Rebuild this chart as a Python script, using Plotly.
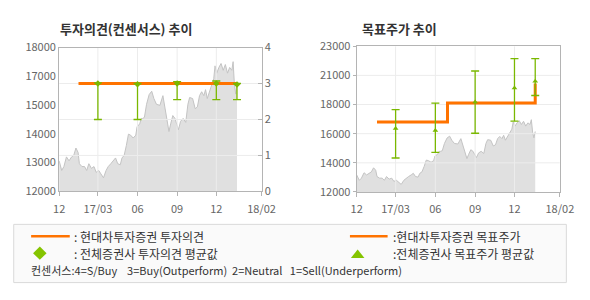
import plotly.graph_objects as go

W, H = 590, 300

# ---------------- data ----------------
price_dates = [
    "2016-12-01", "2016-12-07", "2016-12-12", "2016-12-18", "2016-12-24", "2016-12-30",
    "2017-01-04", "2017-01-09", "2017-01-14", "2017-01-17", "2017-01-23", "2017-01-29",
    "2017-02-03", "2017-02-08", "2017-02-14", "2017-02-20", "2017-02-25", "2017-03-03",
    "2017-03-08", "2017-03-14", "2017-03-20", "2017-03-25", "2017-03-31", "2017-04-06",
    "2017-04-11", "2017-04-16", "2017-04-22", "2017-04-26", "2017-05-01", "2017-05-06",
    "2017-05-11", "2017-05-16", "2017-05-22", "2017-05-28", "2017-05-31", "2017-06-06",
    "2017-06-10", "2017-06-13", "2017-06-17", "2017-06-22", "2017-06-28", "2017-07-04",
    "2017-07-09", "2017-07-15", "2017-07-23", "2017-07-30", "2017-08-05", "2017-08-10",
    "2017-08-13", "2017-08-17", "2017-08-22", "2017-08-27", "2017-09-01", "2017-09-04",
    "2017-09-09", "2017-09-15", "2017-09-21", "2017-09-26", "2017-09-30", "2017-10-07",
    "2017-10-13", "2017-10-18", "2017-10-23", "2017-10-28", "2017-11-02", "2017-11-06",
    "2017-11-10", "2017-11-15", "2017-11-19", "2017-11-25", "2017-11-28", "2017-12-02",
    "2017-12-07", "2017-12-12", "2017-12-17", "2017-12-22", "2017-12-27", "2018-01-01",
    "2018-01-06", "2018-01-09", "2018-01-12", "2018-01-15", "2018-01-18",
]
price_vals = [
    13170, 12800, 12950, 13320, 13170, 13320,
    13380, 13660, 13490, 13060, 12950, 12950,
    12800, 13060, 12880, 12950, 12730, 12800,
    12670, 12520, 12800, 12950, 13060, 13170,
    13280, 13060, 13020, 13280, 13380, 13750,
    14190, 14150, 14040, 14150, 14470, 14580,
    14790, 14790, 14830, 15330, 15700, 15830,
    15550, 15330, 15290, 15660, 15010, 14470,
    14290, 14580, 14900, 14790, 14510, 14360,
    14680, 14790, 14640, 15330, 15590, 15550,
    15160, 15230, 15660, 15810, 15660, 15890,
    15550, 15810, 16090, 16310, 16800, 16520,
    16740, 16890, 16630, 16850, 16520, 16740,
    16630, 16960, 16090, 15720, 16150,
]

# 현대차투자증권 투자의견 / 목표주가
opinion_dates = ["2017-01-15", "2018-01-18"]
opinion_vals = [3, 3]
target_dates = ["2017-01-17", "2017-06-29", "2018-01-18"]
target_vals = [16800, 18100, 19450]

# 전체증권사 (consensus) averages with min / max
cons_dates = ["2017-03-01", "2017-06-01", "2017-09-01", "2017-12-01", "2018-01-18"]
cons_op_avg = [3.0, 2.98, 3.0, 3.0, 2.97]
cons_op_max = [3.02, 3.0, 3.05, 3.07, 3.0]
cons_op_min = [2.0, 2.0, 2.55, 2.55, 2.55]
cons_tp_avg = [16350, 16220, 18170, 19140, 19600]
cons_tp_max = [17650, 18100, 20300, 21150, 21150]
cons_tp_min = [14330, 14720, 16030, 16860, 18620]

x_range = ["2016-12-01", "2018-03-16"]
x_tickvals = ["2016-12-01", "2017-03-01", "2017-06-01", "2017-09-01", "2017-12-01", "2018-03-16"]
x_ticktext = ["12", "17/03", "06", "09", "12", "18/02"]

op_range = [0, 4]
op_tickvals = [0, 1, 2, 3, 4]
lp_range = [12000, 17500]
lp_tickvals = [12000, 13100, 14200, 15300, 16400, 17500]
lp_ticktext = ["12000", "13000", "14000", "15000", "17000", "18000"]
rp_range = [12000, 22000]
rp_tickvals = [12000, 14000, 16000, 18000, 20000, 22000]
rp_ticktext = ["12000", "14000", "16000", "18000", "21000", "23000"]

# ---------------- styles ----------------
FONT = "Noto Sans CJK KR"
ORANGE = "#ff7300"
GREEN = "#7ab800"
LEG_GREEN = "#84c400"
AREA_FILL = "#e0e0e0"
AREA_LINE = "#c3c3c3"
GRID = "#ececec"
AXIS = "#b4b4b4"
TICKFONT = dict(family=FONT, size=11, color="#666666")

fig = go.Figure()


def grid_traces(xref, yref, yr, hvals):
    # vertical grid lines at inner month ticks, horizontal at inner y ticks
    gx, gy = [], []
    for d in x_tickvals[1:-1]:
        gx += [d, d, None]
        gy += [yr[0], yr[1], None]
    for v in hvals:
        gx += [x_range[0], x_range[1], None]
        gy += [v, v, None]
    fig.add_trace(go.Scatter(x=gx, y=gy, mode="lines", xaxis=xref, yaxis=yref,
                             line=dict(color=GRID, width=1), hoverinfo="skip",
                             showlegend=False))


# ---- left chart: 투자의견 ----
fig.add_trace(go.Scatter(x=price_dates, y=price_vals, mode="lines", fill="tozeroy",
                         fillcolor=AREA_FILL, line=dict(color=AREA_LINE, width=1),
                         xaxis="x", yaxis="y", showlegend=False, hoverinfo="skip"))
grid_traces("x", "y2", op_range, op_tickvals[1:-1])
fig.add_trace(go.Scatter(x=opinion_dates, y=opinion_vals, mode="lines",
                         line=dict(color=ORANGE, width=3),
                         xaxis="x", yaxis="y2", showlegend=False))
fig.add_trace(go.Scatter(
    x=cons_dates, y=cons_op_avg, mode="markers", xaxis="x", yaxis="y2",
    marker=dict(symbol="diamond", size=5, color=GREEN),
    error_y=dict(type="data", symmetric=False,
                 array=[mx - a for mx, a in zip(cons_op_max, cons_op_avg)],
                 arrayminus=[a - mn for mn, a in zip(cons_op_min, cons_op_avg)],
                 color=GREEN, thickness=1.3, width=4),
    showlegend=False))

# ---- right chart: 목표주가 ----
fig.add_trace(go.Scatter(x=price_dates, y=price_vals, mode="lines", fill="tozeroy",
                         fillcolor=AREA_FILL, line=dict(color=AREA_LINE, width=1),
                         xaxis="x2", yaxis="y3", showlegend=False, hoverinfo="skip"))
grid_traces("x2", "y3", rp_range, rp_tickvals[1:-1])
fig.add_trace(go.Scatter(x=target_dates, y=target_vals, mode="lines",
                         line=dict(color=ORANGE, width=3, shape="hv"),
                         xaxis="x2", yaxis="y3", showlegend=False))
fig.add_trace(go.Scatter(
    x=cons_dates, y=cons_tp_avg, mode="markers", xaxis="x2", yaxis="y3",
    marker=dict(symbol="triangle-up", size=5, color=GREEN),
    error_y=dict(type="data", symmetric=False,
                 array=[mx - a for mx, a in zip(cons_tp_max, cons_tp_avg)],
                 arrayminus=[a - mn for mn, a in zip(cons_tp_min, cons_tp_avg)],
                 color=GREEN, thickness=1.3, width=4),
    showlegend=False))


def px_x(p):
    return p / W


def px_y(p):
    return 1 - p / H


xcommon = dict(type="date", range=x_range, tickvals=x_tickvals, ticktext=x_ticktext,
               showgrid=False, zeroline=False, showline=True, linecolor=AXIS, linewidth=1,
               mirror=True, ticks="outside", ticklen=4, tickcolor=AXIS,
               ticklabelstandoff=3, tickfont=TICKFONT, fixedrange=True)

fig.update_layout(
    width=W, height=H,
    margin=dict(l=0, r=0, t=0, b=0),
    paper_bgcolor="white", plot_bgcolor="white",
    font=dict(family=FONT, color="#333333"),
    hovermode=False,
    xaxis=dict(domain=[px_x(55), px_x(264.5)], anchor="y", **xcommon),
    yaxis=dict(domain=[px_y(192.7), px_y(40.7)], range=lp_range, tickvals=lp_tickvals,
               ticktext=lp_ticktext, showgrid=False, zeroline=False, showline=True,
               linecolor=AXIS, ticks="", tickfont=TICKFONT, fixedrange=True),
    yaxis2=dict(overlaying="y", side="right", anchor="x", range=op_range,
                tickvals=op_tickvals, showgrid=False, zeroline=False, showline=True,
                linecolor=AXIS, ticks="inside", ticklen=4, tickcolor=AXIS,
                tickfont=TICKFONT, fixedrange=True),
    xaxis2=dict(domain=[px_x(363), px_x(573.3)], anchor="y3", **xcommon),
    yaxis3=dict(domain=[px_y(193.3), px_y(39.3)], anchor="x2", range=rp_range,
                tickvals=rp_tickvals, ticktext=rp_ticktext, showgrid=False,
                zeroline=False, showline=True, mirror=True, linecolor=AXIS,
                ticks="outside", ticklen=3, tickcolor=AXIS, tickfont=TICKFONT,
                fixedrange=True),
)

# ---- titles ----
fig.add_annotation(x=px_x(54), y=px_y(21), xref="paper", yref="paper", xanchor="left",
                   yanchor="middle", showarrow=False, text="<b>투자의견(컨센서스) 추이</b>",
                   font=dict(family=FONT, size=13, color="#333333"))
fig.add_annotation(x=px_x(366), y=px_y(21), xref="paper", yref="paper", xanchor="left",
                   yanchor="middle", showarrow=False, text="<b>목표주가 추이</b>",
                   font=dict(family=FONT, size=13, color="#333333"))

# ---- legend box ----
fig.add_shape(type="rect", xref="paper", yref="paper", x0=px_x(8), x1=px_x(580),
              y0=px_y(289), y1=px_y(227.5), line=dict(color="#d9d9d9", width=1),
              fillcolor="#fafafa", layer="below")
for x0, x1 in [(26, 66), (356, 395)]:
    fig.add_shape(type="line", xref="paper", yref="paper", x0=px_x(x0), x1=px_x(x1),
                  y0=px_y(240), y1=px_y(240), line=dict(color=ORANGE, width=2.5))
cx, cy, r = 35, 258, 7
fig.add_shape(type="path", xref="paper", yref="paper",
              path=(f"M {px_x(cx)},{px_y(cy - r)} L {px_x(cx + r)},{px_y(cy)} "
                    f"L {px_x(cx)},{px_y(cy + r)} L {px_x(cx - r)},{px_y(cy)} Z"),
              fillcolor=LEG_GREEN, line=dict(width=0))
tx, ty = 364, 259
fig.add_shape(type="path", xref="paper", yref="paper",
              path=(f"M {px_x(tx)},{px_y(ty - 5)} L {px_x(tx + 7)},{px_y(ty + 4)} "
                    f"L {px_x(tx - 7)},{px_y(ty + 4)} Z"),
              fillcolor=LEG_GREEN, line=dict(width=0))

legend_texts = [
    (68, 240, ": 현대차투자증권 투자의견", 12),
    (399, 240, ":현대차투자증권 목표주가", 12),
    (68, 258, ": 전체증권사 투자의견 평균값", 12),
    (399, 258, ":전체증권사 목표주가 평균값", 12),
    (24, 276, "컨센서스:4=S/Buy    3=Buy(Outperform)  2=Neutral   1=Sell(Underperform)", 11),
]
for x, y, t, s in legend_texts:
    fig.add_annotation(x=px_x(x), y=px_y(y), xref="paper", yref="paper", xanchor="left",
                       yanchor="middle", showarrow=False, text=t.replace("  ", "&nbsp; "),
                       font=dict(family=FONT, size=s, color="#333333"))

fig.write_html("out.html", config={"displayModeBar": False})
